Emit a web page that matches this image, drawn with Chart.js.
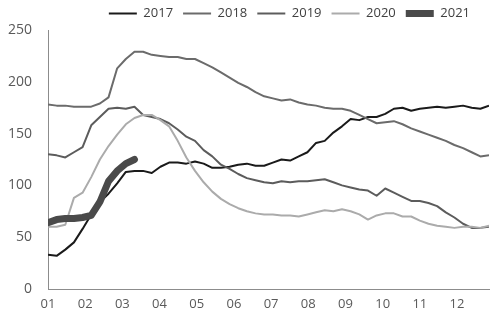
<!DOCTYPE html>
<html lang="en">
<head>
    <meta charset="UTF-8">
    <title>Weekly series 2017-2021</title>
    <style>
        html, body { margin: 0; padding: 0; background: #fff; }
        #wrap { width: 499px; height: 323px; }
    </style>
    <script src="https://cdn.jsdelivr.net/npm/chart.js"></script>
</head>
<body>
    <div id="wrap"><canvas id="myChart" width="499" height="323"></canvas></div>

    <script>
        // week index 0..51 along the x axis
        const weeks = Array.from({ length: 52 }, (_, i) => i);

        const monthLabels = ['01', '02', '03', '04', '05', '06', '07', '08', '09', '10', '11', '12'];
        const yTicks = [0, 50, 100, 150, 200, 250];

        const seriesNames = ['2017', '2018', '2019', '2020', '2021'];

        const data2017 = [33, 32, 38, 45, 58, 72, 84, 92, 102, 113, 114, 114, 112, 118, 122, 122, 121, 123, 121, 117,
            117, 118, 120, 121, 119, 119, 122, 125, 124, 128, 132, 141, 143, 151, 157, 164, 163, 166, 166, 169,
            174, 175, 172, 174, 175, 176, 175, 176, 177, 175, 174, 177];

        const data2018 = [178, 177, 177, 176, 176, 176, 179, 185, 213, 222, 229, 229, 226, 225, 224, 224, 222, 222, 218, 214,
            209, 204, 199, 195, 190, 186, 184, 182, 183, 180, 178, 177, 175, 174, 174, 172, 168, 164, 160, 161,
            162, 159, 155, 152, 149, 146, 143, 139, 136, 132, 128, 129];

        const data2019 = [130, 129, 127, 132, 137, 158, 166, 174, 175, 174, 176, 168, 166, 164, 160, 154, 147, 143, 134, 128,
            120, 116, 111, 107, 105, 103, 102, 104, 103, 104, 104, 105, 106, 103, 100, 98, 96, 95, 90, 97,
            93, 89, 85, 85, 83, 80, 74, 69, 63, 59, 59, 60];

        const data2020 = [60, 60, 62, 88, 93, 108, 125, 138, 149, 159, 165, 168, 168, 163, 157, 143, 127, 114, 103, 94,
            87, 82, 78, 75, 73, 72, 72, 71, 71, 70, 72, 74, 76, 75, 77, 75, 72, 67, 71, 73,
            73, 70, 70, 66, 63, 61, 60, 59, 60, 60, 59, 61];

        const data2021 = [64, 67, 68, 68, 69, 71, 84, 104, 114, 121, 125];

        const lineColors = ['#1a1a1a', '#6b6b6b', '#5c5c5c', '#ababab', '#4a4a4a'];
        const lineWidths = [2, 2, 2, 2, 7];
        const allData = [data2017, data2018, data2019, data2020, data2021];

        // 2021 is drawn last so the thick line sits on top
        const datasets = seriesNames.map((name, k) => ({
            label: name,
            data: allData[k],
            borderColor: lineColors[k],
            backgroundColor: lineColors[k],
            borderWidth: lineWidths[k],
            borderCapStyle: k === 4 ? 'round' : 'butt',
            borderJoinStyle: 'round',
            pointRadius: 0,
            tension: 0,
            fill: false,
            order: k === 4 ? 0 : 5 - k
        }));

        // nudge the legend row a little to the left of the plot's right edge
        const legendShift = {
            id: 'legendShift',
            afterLayout(chart) {
                chart.legend.right -= 9;
            }
        };

        const tickFont = { family: 'Open Sans', size: 13 };

        const ctx = document.getElementById('myChart').getContext('2d');

        new Chart(ctx, {
            type: 'line',
            data: {
                labels: weeks,
                datasets: datasets
            },
            plugins: [legendShift],
            options: {
                responsive: false,
                animation: false,
                layout: {
                    padding: { left: 0, right: 10, top: -3, bottom: 0 }
                },
                plugins: {
                    tooltip: { enabled: false },
                    legend: {
                        position: 'top',
                        align: 'end',
                        labels: {
                            usePointStyle: true,
                            pointStyle: 'line',
                            pointStyleWidth: 28,
                            padding: 10,
                            color: '#404040',
                            font: { family: 'Open Sans', size: 13 },
                            sort: (a, b) => a.datasetIndex - b.datasetIndex
                        }
                    }
                },
                scales: {
                    x: {
                        type: 'linear',
                        min: 0,
                        max: 51,
                        grid: { display: false, drawTicks: false },
                        border: { display: true, color: '#8c8c8c', width: 1 },
                        afterBuildTicks: (axis) => {
                            axis.ticks = monthLabels.map((_, m) => ({ value: m * 4.3 }));
                        },
                        afterFit: (axis) => { axis.height = 34; },
                        ticks: {
                            autoSkip: false,
                            maxRotation: 0,
                            padding: 7,
                            color: '#595959',
                            font: tickFont,
                            callback: (value, index) => monthLabels[index]
                        }
                    },
                    y: {
                        min: 0,
                        max: 250,
                        grid: { display: false, drawTicks: false },
                        border: { display: true, color: '#8c8c8c', width: 1 },
                        afterBuildTicks: (axis) => {
                            axis.ticks = yTicks.map(v => ({ value: v }));
                        },
                        afterFit: (axis) => { axis.width = 48; },
                        ticks: {
                            padding: 16,
                            color: '#595959',
                            font: { family: 'Open Sans', size: 14 }
                        }
                    }
                }
            }
        });
    </script>
</body>
</html>
